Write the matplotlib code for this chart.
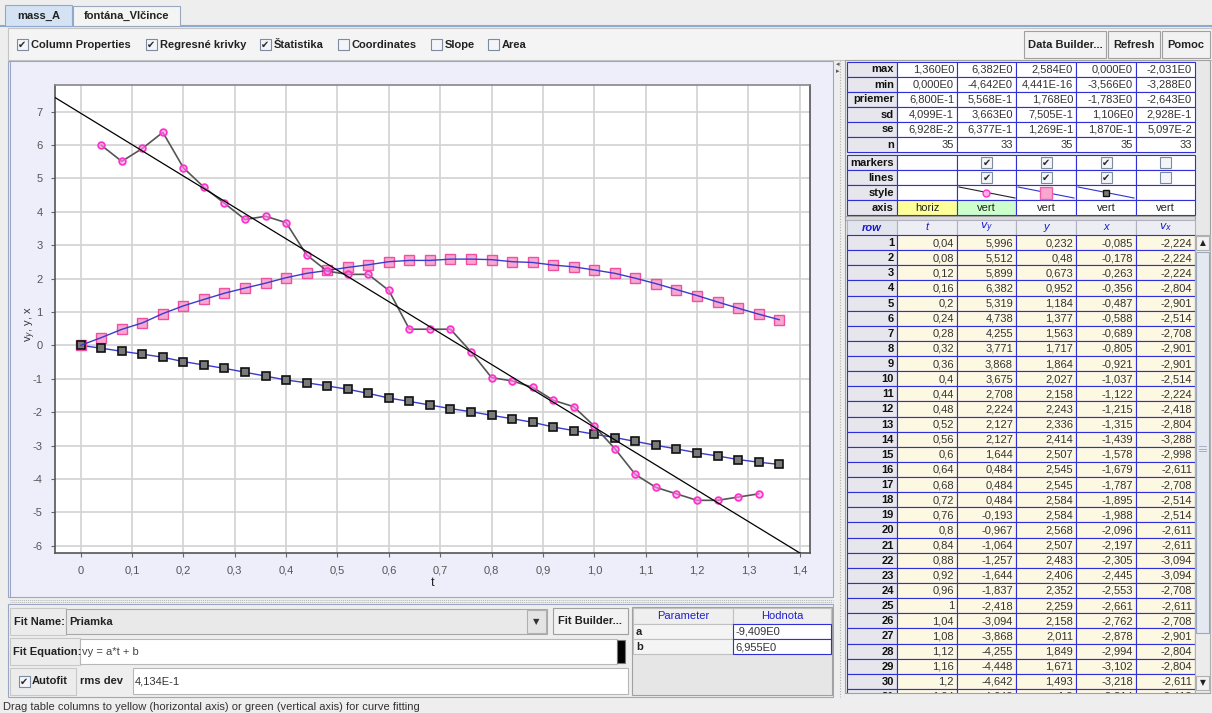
import matplotlib
matplotlib.use('Agg')
import matplotlib.pyplot as plt
from matplotlib.patches import Rectangle
from matplotlib.ticker import FuncFormatter

plt.rcParams['axes.unicode_minus'] = False
FONT = 'Liberation Sans'

# --- data ---
t = [0.00, 0.04, 0.08, 0.12, 0.16, 0.20, 0.24, 0.28, 0.32, 0.36, 0.40, 0.44,
     0.48, 0.52, 0.56, 0.60, 0.64, 0.68, 0.72, 0.76, 0.80, 0.84, 0.88, 0.92,
     0.96, 1.00, 1.04, 1.08, 1.12, 1.16, 1.20, 1.24, 1.28, 1.32, 1.36]
vy = [5.996, 5.512, 5.899, 6.382, 5.319, 4.738, 4.255, 3.771, 3.868, 3.675,
      2.708, 2.224, 2.127, 2.127, 1.644, 0.484, 0.484, 0.484, -0.193, -0.967,
      -1.064, -1.257, -1.644, -1.837, -2.418, -3.094, -3.868, -4.255, -4.448,
      -4.642, -4.642, -4.545, -4.448]
y = [0.0, 0.232, 0.48, 0.673, 0.952, 1.184, 1.377, 1.563, 1.717, 1.864, 2.027,
     2.158, 2.243, 2.336, 2.414, 2.507, 2.545, 2.545, 2.584, 2.584, 2.568,
     2.507, 2.483, 2.406, 2.352, 2.259, 2.158, 2.011, 1.849, 1.671, 1.493,
     1.3, 1.115, 0.935, 0.77]
x = [0.0, -0.085, -0.178, -0.263, -0.356, -0.487, -0.588, -0.689, -0.805,
     -0.921, -1.037, -1.122, -1.215, -1.315, -1.439, -1.578, -1.679, -1.787,
     -1.895, -1.988, -2.096, -2.197, -2.305, -2.445, -2.553, -2.661, -2.762,
     -2.878, -2.994, -3.102, -3.218, -3.314, -3.42, -3.5, -3.566]
vx = [-2.224, -2.224, -2.224, -2.804, -2.901, -2.514, -2.708, -2.901, -2.901,
      -2.514, -2.224, -2.418, -2.804, -3.288, -2.998, -2.611, -2.708, -2.514,
      -2.514, -2.611, -2.611, -3.094, -3.094, -2.708, -2.611, -2.708, -2.901,
      -2.804, -2.804, -2.611, -2.418, -2.224, -2.031]

fit_a = -9.409
fit_b = 6.955

stat_names = ['max', 'min', 'priemer', 'sd', 'se', 'n']
stat_t = ['1,360E0', '0,000E0', '6,800E-1', '4,099E-1', '6,928E-2', '35']
stat_vy = ['6,382E0', '-4,642E0', '5,568E-1', '3,663E0', '6,377E-1', '33']
stat_y = ['2,584E0', '4,441E-16', '1,768E0', '7,505E-1', '1,269E-1', '35']
stat_x = ['0,000E0', '-3,566E0', '-1,783E0', '1,106E0', '1,870E-1', '35']
stat_vx = ['-2,031E0', '-3,288E0', '-2,643E0', '2,928E-1', '5,097E-2', '33']

checks = ['Column Properties', 'Regresné krivky', 'Štatistika', 'Coordinates', 'Slope', 'Area']
checked = [True, True, True, False, False, False]

BLUE = '#2f2fd8'

fig = plt.figure(figsize=(12.12, 7.13), dpi=100)
fig.patch.set_facecolor('#eeeeee')
ui = fig.add_axes([0, 0, 1, 1])
ui.set_xlim(0, 1212)
ui.set_ylim(713, 0)
ui.axis('off')


def box(x0, y0, x1, y1, fc='none', ec='none', lw=0.8, z=1):
    ui.add_patch(Rectangle((x0, y0), x1 - x0, y1 - y0, facecolor=fc,
                           edgecolor=ec, linewidth=lw, zorder=z))


def label(xp, yp, s, size=8, weight='normal', color='#222222', ha='left',
          style='normal', z=5):
    ui.text(xp, yp, s, fontsize=size, fontweight=weight, color=color, ha=ha,
            va='center', fontstyle=style, family=FONT, zorder=z)


def checkbox(cx, cy, on, z=6):
    box(cx - 5.5, cy - 5.5, cx + 5.5, cy + 5.5, fc='#f3f5f9', ec='#7d8ba0', z=z)
    if on:
        ui.text(cx, cy + 0.5, '✔', fontsize=7, color='#2a2a2a', ha='center',
                va='center', family='DejaVu Sans', zorder=z + 1)


def fmt(v):
    s = f'{v:.3f}'.rstrip('0').rstrip('.')
    return s.replace('.', ',')


# tabs
ui.plot([0, 1212], [26, 26], color='#8ea9d0', lw=1.5, zorder=2)
box(5, 5, 72, 26, fc='#d4e2f4', ec='#8ea9d0', z=3)
label(38.5, 16, 'mass_A', weight='bold', ha='center')
box(73, 6, 180, 26, fc='#f4f4f4', ec='#9aa8bc', z=3)
label(126.5, 16, 'fontána_Vlčince', weight='bold', ha='center')

# toolbar
box(8, 28, 1212, 60, fc='#f4f4f4', ec='#c4c4c4')
cb_x = [22, 151, 265, 343, 436, 493]
for cx, name, on in zip(cb_x, checks, checked):
    checkbox(cx, 44, on)
    label(cx + 9, 44.5, name, weight='bold')
for x0, x1, name in [(1024, 1106, 'Data Builder...'), (1108, 1160, 'Refresh'),
                     (1162, 1210, 'Pomoc')]:
    box(x0, 31, x1, 58, fc='#f2f2f2', ec='#a0a0a0', z=2)
    label((x0 + x1) / 2, 44.5, name, weight='bold', ha='center')

# plot panel
box(8, 61, 833, 597, fc='#eeeefb', ec='#9aa6c4')
ui.plot([10, 10], [61, 597], color='#9aa6c4', lw=0.8)
ui.plot([840, 840], [60, 697], color='#b0b0b0', lw=0.8, ls=(0, (1, 1.5)))
ui.text(838, 64, '◂', fontsize=5, color='#556', ha='center', va='center', family='DejaVu Sans')
ui.text(838, 71, '▸', fontsize=5, color='#556', ha='center', va='center', family='DejaVu Sans')
for yy in [599.5, 601.5]:
    ui.plot([10, 833], [yy, yy], color='#b8b8b8', lw=0.7, ls=(0, (1, 1)))

# fit panel
box(8, 604, 833, 697, fc='#eeeeee', ec='#9aa6c4')
box(10, 608, 66, 635, fc='#ececec', ec='#c8c8c8')
label(14, 622, 'Fit Name:', weight='bold')
box(66, 609, 547, 634, fc='#e9e9e9', ec='#a8a8a8')
label(69, 622, 'Priamka', weight='bold')
box(527, 610, 546, 633, fc='#e4e4e4', ec='#b0b0b0')
ui.text(536.5, 622, '▼', fontsize=6, color='#333', ha='center', va='center', family='DejaVu Sans')
box(553, 608, 628, 634, fc='#f2f2f2', ec='#a0a0a0')
label(590.5, 621.5, 'Fit Builder...', weight='bold', ha='center')
box(10, 638, 80, 665, fc='#ececec', ec='#c8c8c8')
label(13, 652, 'Fit Equation:', weight='bold')
box(80, 639, 617, 664, fc='white', ec='#b8b8b8')
label(82, 652, 'vy = a*t + b', color='#444444')
box(617, 640, 625, 663, fc='black', ec='#777777')
box(10, 668, 76, 695, fc='#ececec', ec='#c8c8c8')
checkbox(24, 681, True)
label(32, 681.5, 'Autofit', weight='bold')
label(80, 681.5, 'rms dev', weight='bold')
box(133, 668, 628, 694, fc='white', ec='#b8b8b8')
label(135, 681.5, '4,134E-1', color='#333333')

# parameter table
box(632, 607, 832, 695, fc='#e6e6e6', ec='#a0a0a0')
box(633, 608, 733, 624, fc='#efefef', ec='#c0c0c0', z=2)
box(733, 608, 831, 624, fc='#efefef', ec='#c0c0c0', z=2)
label(683, 616, 'Parameter', color='#2020cc', ha='center')
label(782, 616, 'Hodnota', color='#2020cc', ha='center')
for i, (pn, pv) in enumerate([('a', fit_a), ('b', fit_b)]):
    y0 = 624 + 15 * i
    box(633, y0, 733, y0 + 15, fc='#f4f4f4', ec='#c0c0c0', z=2)
    box(733, y0, 831, y0 + 15, fc='white', ec=BLUE, z=3)
    label(636, y0 + 8, pn, weight='bold')
    label(735, y0 + 8, f'{pv:.3f}E0'.replace('.', ','), color='#333333')

label(3, 707, 'Drag table columns to yellow (horizontal axis) or green '
      '(vertical axis) for curve fitting', color='#333333')

# right-hand tables
cols = [847, 897, 957, 1016, 1076, 1136, 1195]
box(845, 60, 1210, 697, fc='#e8e8e8', ec='#a0a0a0')
stat_cols = [stat_t, stat_vy, stat_y, stat_x, stat_vx]
for r, name in enumerate(stat_names):
    y0 = 61.5 + 15 * r
    box(cols[0], y0, cols[1], y0 + 15, fc='#e6e6ec', ec=BLUE, z=2)
    label(cols[1] - 3, y0 + 8, name, weight='bold', ha='right', color='#111111')
    for c, vals in enumerate(stat_cols):
        box(cols[c + 1], y0, cols[c + 2], y0 + 15, fc='white', ec=BLUE, z=2)
        label(cols[c + 2] - 3, y0 + 8, vals[r], ha='right', color='#333333')

prop_names = ['markers', 'lines', 'style', 'axis']
marker_on = [None, True, True, True, False]
line_on = [None, True, True, True, False]
for r, name in enumerate(prop_names):
    y0 = 155 + 15 * r
    box(cols[0], y0, cols[1], y0 + 15, fc='#e6e6ec', ec=BLUE, z=2)
    label(cols[1] - 3, y0 + 8, name, weight='bold', ha='right', color='#111111')
    for c in range(5):
        fc = 'white'
        if name == 'axis':
            fc = '#ffff99' if c == 0 else ('#ccffcc' if c == 1 else 'white')
        box(cols[c + 1], y0, cols[c + 2], y0 + 15, fc=fc, ec=BLUE, z=2)
        cx = (cols[c + 1] + cols[c + 2]) / 2
        if name == 'markers' and marker_on[c] is not None:
            checkbox(cx, y0 + 7.5, marker_on[c])
        if name == 'lines' and line_on[c] is not None:
            checkbox(cx, y0 + 7.5, line_on[c])
        if name == 'axis':
            label(cx, y0 + 8, 'horiz' if c == 0 else 'vert', ha='center', color='#222222')
# style samples
sy = 155 + 30
ui.plot([959, 1015], [sy + 2, sy + 13], color='#222222', lw=0.8, zorder=4)
ui.plot([986], [sy + 7.5], 'o', ms=5, mfc='#ffb0e8', mec='#ff33cc', mew=1, zorder=5)
ui.plot([1018, 1074], [sy + 2, sy + 13], color='#3333cc', lw=0.8, zorder=4)
ui.plot([1046], [sy + 7.5], 's', ms=8, mfc='#f8a8d0', mec='#f060a8', mew=1, zorder=5)
ui.plot([1078, 1134], [sy + 2, sy + 13], color='#3333cc', lw=0.8, zorder=4)
ui.plot([1106], [sy + 7.5], 's', ms=5, mfc='#7a7a7a', mec='#111111', mew=1, zorder=5)

box(845, 215.5, 1195, 219.5, fc='#dcdcdc', ec='#a0a0a0', z=2)

# data table header
hy0 = 220
box(cols[0], hy0, cols[1], hy0 + 15, fc='#e2e4ee', ec='#b0b0c0', z=2)
label((cols[0] + cols[1]) / 2, hy0 + 8, 'row', weight='bold', style='italic',
      color='#1a1ad0', ha='center')
heads = ['t', '$v_y$', 'y', 'x', '$v_x$']
for c, hname in enumerate(heads):
    box(cols[c + 1], hy0, cols[c + 2], hy0 + 15, fc='#eceef4', ec='#b0b0c0', z=2)
    label((cols[c + 1] + cols[c + 2]) / 2, hy0 + 7.5, hname, style='italic',
          color='#1a1ad0', ha='center')

# data rows (row 1 is t = 0.04)
rh = 15.13
for i in range(1, 32):
    y0 = 235 + (i - 1) * rh
    row_vals = [fmt(t[i]), fmt(vy[i - 1]), fmt(y[i]), fmt(x[i]), fmt(vx[i - 1])]
    box(cols[0], y0, cols[1], y0 + rh, fc='#e6e6ec', ec=BLUE, z=2)
    label(cols[1] - 3, y0 + 8, str(i), weight='bold', ha='right', color='#111111')
    for c, s in enumerate(row_vals):
        box(cols[c + 1], y0, cols[c + 2], y0 + rh, fc='#fdf8e2', ec=BLUE, z=2)
        label(cols[c + 2] - 3, y0 + 8, s, ha='right', color='#333333')
box(845, 693, 1212, 713, fc='#eeeeee', ec='none', z=8)
ui.plot([845, 1210], [693, 693], color='#a0a0a0', lw=0.8, zorder=9)

# scrollbar
box(1195, 235, 1210, 693, fc='#ececec', ec='#b0b0b0', z=3)
box(1196, 236, 1209, 250, fc='#f2f2f2', ec='#b0b0b0', z=4)
ui.text(1202.5, 243, '▲', fontsize=5.5, color='#222', ha='center', va='center', family='DejaVu Sans', zorder=5)
box(1196, 252, 1209, 633, fc='#e4e9f1', ec='#9aa8bc', z=4)
for gy in [446, 448.5, 451]:
    ui.plot([1199, 1206], [gy, gy], color='#9aa8bc', lw=0.6, zorder=5)
box(1196, 676, 1209, 690, fc='#f2f2f2', ec='#b0b0b0', z=4)
ui.text(1202.5, 683, '▼', fontsize=5.5, color='#222', ha='center', va='center', family='DejaVu Sans', zorder=5)

# --- the chart ---
ax = fig.add_axes([55 / 1212, (713 - 553) / 713, (810 - 55) / 1212, (553 - 85) / 713],
                  zorder=3)
ax.set_facecolor('white')
ax.set_xlim(-0.05, 1.42)
ax.set_ylim(-6.22, 7.8)
ax.set_xticks([i / 10 for i in range(15)])
ax.set_yticks(range(-6, 8))
ax.xaxis.set_major_formatter(FuncFormatter(lambda v, _: '0' if abs(v) < 1e-9 else f'{v:.1f}'.replace('.', ',')))
ax.yaxis.set_major_formatter(FuncFormatter(lambda v, _: f'{v:.0f}'))
ax.grid(color='#d2d2d2', lw=1.2)
ax.set_axisbelow(True)
for side in ['left', 'bottom', 'top', 'right']:
    ax.spines[side].set_color('#555555')
    ax.spines[side].set_linewidth(1.2)
ax.spines['top'].set_color('#888888')
ax.tick_params(direction='out', length=3, color='#666666', labelcolor='#555555',
               labelsize=8, pad=6)
for lab in ax.get_xticklabels() + ax.get_yticklabels():
    lab.set_family(FONT)

fx = [-0.05, 1.42]
ax.plot(fx, [fit_a * v + fit_b for v in fx], color='black', lw=0.9, zorder=6)

ax.plot(t, x, color='#3a3acc', lw=1, zorder=3)
ax.plot(t, x, 's', ms=5.2, mfc='#7a7a7a', mec='#111111', mew=1.2, zorder=4)

ax.plot(t, y, 's', ms=7.4, mfc=(0.97, 0.62, 0.8, 0.9), mec='#f050a0', mew=1, zorder=3)
ax.plot(t, y, color='#3a3acc', lw=1, zorder=4)

t_v = t[1:34]
ax.plot(t_v, vy, color='#555555', lw=1.2, zorder=5)
ax.plot(t_v, vy, 'o', ms=4.8, mfc=(1.0, 0.6, 0.9, 0.6), mec='#ff33cc', mew=1.3, zorder=5)

ax.set_xlabel('t', fontsize=9, family=FONT, color='#222222', labelpad=1)
ax.set_ylabel('v$_y$, y, x', fontsize=8, family=FONT, color='#333333')
ax.yaxis.set_label_coords(-0.022, 0.49)

fig.savefig('out.png', dpi=100, facecolor=fig.get_facecolor())
